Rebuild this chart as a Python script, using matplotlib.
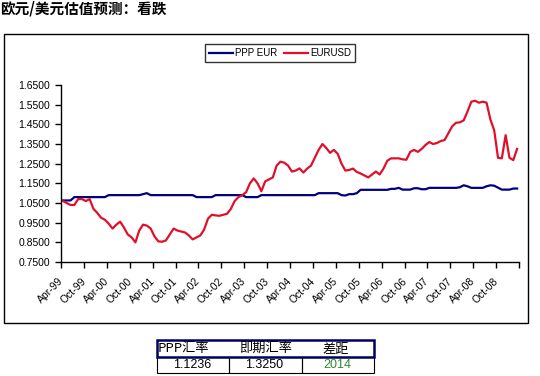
import matplotlib
matplotlib.use("Agg")
import matplotlib.pyplot as plt
from matplotlib.patches import Rectangle
from matplotlib.transforms import ScaledTranslation

plt.rcParams['font.family'] = ['Liberation Sans', 'Noto Sans CJK SC', 'DejaVu Sans']

# ---------------- data ----------------
title = "欧元/美元估值预测：看跌"
series_names = ["PPP EUR", "EURUSD"]
tick_labels = ["Apr-99", "Oct-99", "Apr-00", "Oct-00", "Apr-01", "Oct-01", "Apr-02",
               "Oct-02", "Apr-03", "Oct-03", "Apr-04", "Oct-04", "Apr-05", "Oct-05",
               "Apr-06", "Oct-06", "Apr-07", "Oct-07", "Apr-08", "Oct-08"]

# monthly, Apr-99 .. Mar-09
ppp_eur = [1.063, 1.063, 1.063, 1.080, 1.080, 1.080, 1.080, 1.080, 1.080, 1.080,
           1.080, 1.080, 1.090, 1.090, 1.090, 1.090, 1.090, 1.090, 1.090, 1.090,
           1.090, 1.095, 1.100, 1.090, 1.090, 1.090, 1.090, 1.090, 1.090, 1.090,
           1.090, 1.090, 1.090, 1.090, 1.090, 1.080, 1.080, 1.080, 1.080, 1.080,
           1.090, 1.090, 1.090, 1.090, 1.090, 1.090, 1.090, 1.090, 1.080, 1.080,
           1.080, 1.080, 1.090, 1.090, 1.090, 1.090, 1.090, 1.090, 1.090, 1.090,
           1.090, 1.090, 1.090, 1.090, 1.090, 1.090, 1.090, 1.100, 1.100, 1.100,
           1.100, 1.100, 1.100, 1.090, 1.088, 1.095, 1.095, 1.100, 1.117, 1.117,
           1.117, 1.117, 1.117, 1.117, 1.117, 1.117, 1.122, 1.122, 1.127, 1.118,
           1.118, 1.118, 1.125, 1.125, 1.120, 1.120, 1.127, 1.127, 1.127, 1.127,
           1.127, 1.127, 1.127, 1.127, 1.130, 1.140, 1.135, 1.127, 1.127, 1.127,
           1.127, 1.135, 1.140, 1.138, 1.128, 1.118, 1.118, 1.118, 1.1236, 1.1236]

eurusd = [1.060, 1.050, 1.040, 1.040, 1.070, 1.070, 1.060, 1.070, 1.020, 1.000,
          0.975, 0.965, 0.945, 0.920, 0.940, 0.955, 0.925, 0.890, 0.875, 0.850,
          0.910, 0.940, 0.935, 0.920, 0.880, 0.855, 0.853, 0.860, 0.890, 0.920,
          0.910, 0.905, 0.900, 0.885, 0.865, 0.875, 0.885, 0.915, 0.970, 0.990,
          0.987, 0.985, 0.990, 0.995, 1.020, 1.060, 1.080, 1.090, 1.105, 1.150,
          1.175, 1.150, 1.110, 1.160, 1.170, 1.180, 1.240, 1.260, 1.255, 1.240,
          1.210, 1.215, 1.226, 1.205, 1.225, 1.240, 1.280, 1.320, 1.350, 1.330,
          1.305, 1.320, 1.300, 1.250, 1.215, 1.218, 1.225, 1.208, 1.200, 1.190,
          1.180, 1.195, 1.210, 1.195, 1.225, 1.265, 1.277, 1.277, 1.277, 1.272,
          1.270, 1.310, 1.320, 1.310, 1.325, 1.345, 1.360, 1.350, 1.355, 1.365,
          1.370, 1.405, 1.440, 1.458, 1.460, 1.470, 1.515, 1.565, 1.570, 1.560,
          1.565, 1.560, 1.475, 1.420, 1.280, 1.277, 1.395, 1.280, 1.268, 1.325]

table_header = ["PPP汇率", "即期汇率", "差距"]
table_values = ["1.1236", "1.3250", "2014"]

# ---------------- figure ----------------
W, H = 540, 376
fig = plt.figure(figsize=(W / 100, H / 100), dpi=100)
fig.patch.set_facecolor('white')

def fx(px):
    return px / W

def fy(py):
    return 1 - py / H

# title
fig.text(fx(0), fy(8), title, fontsize=10.5, fontweight='bold',
         family=['Noto Sans CJK SC', 'DejaVu Sans'], ha='left', va='center')

# outer chart frame
fig.patches.append(Rectangle((fx(4), fy(323)), fx(528) - fx(4), fy(34) - fy(323),
                             transform=fig.transFigure, fill=False,
                             edgecolor='black', linewidth=1.0))

ax = fig.add_axes([fx(61), fy(262), fx(519) - fx(61), fy(85) - fy(262)])
n = len(eurusd)
xs = [i + 0.5 for i in range(n)]
l1, = ax.plot(xs, ppp_eur, color='#000080', linewidth=1.6, label=series_names[0])
l2, = ax.plot(xs, eurusd, color='#e0102a', linewidth=1.6, label=series_names[1])

ax.set_xlim(0, n)
ax.set_ylim(0.75, 1.65)
yt = [0.75 + 0.1 * k for k in range(10)]
ax.set_yticks(yt)
ax.set_yticklabels([f"{v:.4f}" for v in yt], fontsize=7.5)
ax.set_xticks([6 * k for k in range(n // 6 + 1)])
ax.set_xticklabels(tick_labels + [""] * (n // 6 + 1 - len(tick_labels)), fontsize=7.5,
                   rotation=45, ha='right', rotation_mode='anchor')
for s in ['top', 'right']:
    ax.spines[s].set_visible(False)
for s in ['left', 'bottom']:
    ax.spines[s].set_linewidth(1.0)
ax.tick_params(axis='both', direction='out', length=4, width=1.0, colors='black')
ax.tick_params(axis='x', pad=6)
ax.tick_params(axis='y', pad=4)
shift = ScaledTranslation(-3 / 100, 0, fig.dpi_scale_trans)
for lab in ax.get_xticklabels():
    lab.set_transform(lab.get_transform() + shift)

leg = fig.legend(handles=[l1, l2], loc='center', bbox_to_anchor=(fx(280), fy(53)),
                 ncol=2, fontsize=7, frameon=True, fancybox=False,
                 edgecolor='black', handlelength=2.5, columnspacing=0.6,
                 handletextpad=0.25, borderpad=0.4, borderaxespad=0)
leg.get_frame().set_linewidth(1.0)

# ---------------- table ----------------
tx0, tx1 = 157, 374
ty0, ty1, ty2 = 340, 357, 373
colw = (tx1 - tx0) / 3
for k in range(3):
    fig.patches.append(Rectangle((fx(tx0 + k * colw), fy(ty2)), colw / W, (ty2 - ty1) / H,
                                 transform=fig.transFigure, fill=False,
                                 edgecolor='black', linewidth=0.8))
fig.patches.append(Rectangle((fx(tx0), fy(ty1)), (tx1 - tx0) / W, (ty1 - ty0) / H,
                             transform=fig.transFigure, fill=False,
                             edgecolor='#000060', linewidth=1.8))
cjk = ['Noto Sans CJK SC', 'DejaVu Sans']
fig.text(fx(tx0 + 1), fy((ty0 + ty1) / 2), table_header[0], fontsize=9.5, family=cjk,
         ha='left', va='center')
fig.text(fx(tx0 + colw * 1.5), fy((ty0 + ty1) / 2), table_header[1], fontsize=9.5,
         family=cjk, ha='center', va='center')
fig.text(fx(tx0 + colw * 2.5 - 2), fy((ty0 + ty1) / 2), table_header[2], fontsize=9.5,
         family=cjk, ha='center', va='center')
val_colors = ['black', 'black', '#2e8b2e']
for k in range(3):
    fig.text(fx(tx0 + colw * (k + 0.5) - 1), fy((ty1 + ty2) / 2 + 0.5), table_values[k],
             fontsize=9, ha='center', va='center', color=val_colors[k])

fig.savefig("out.png", dpi=100, facecolor='white')
